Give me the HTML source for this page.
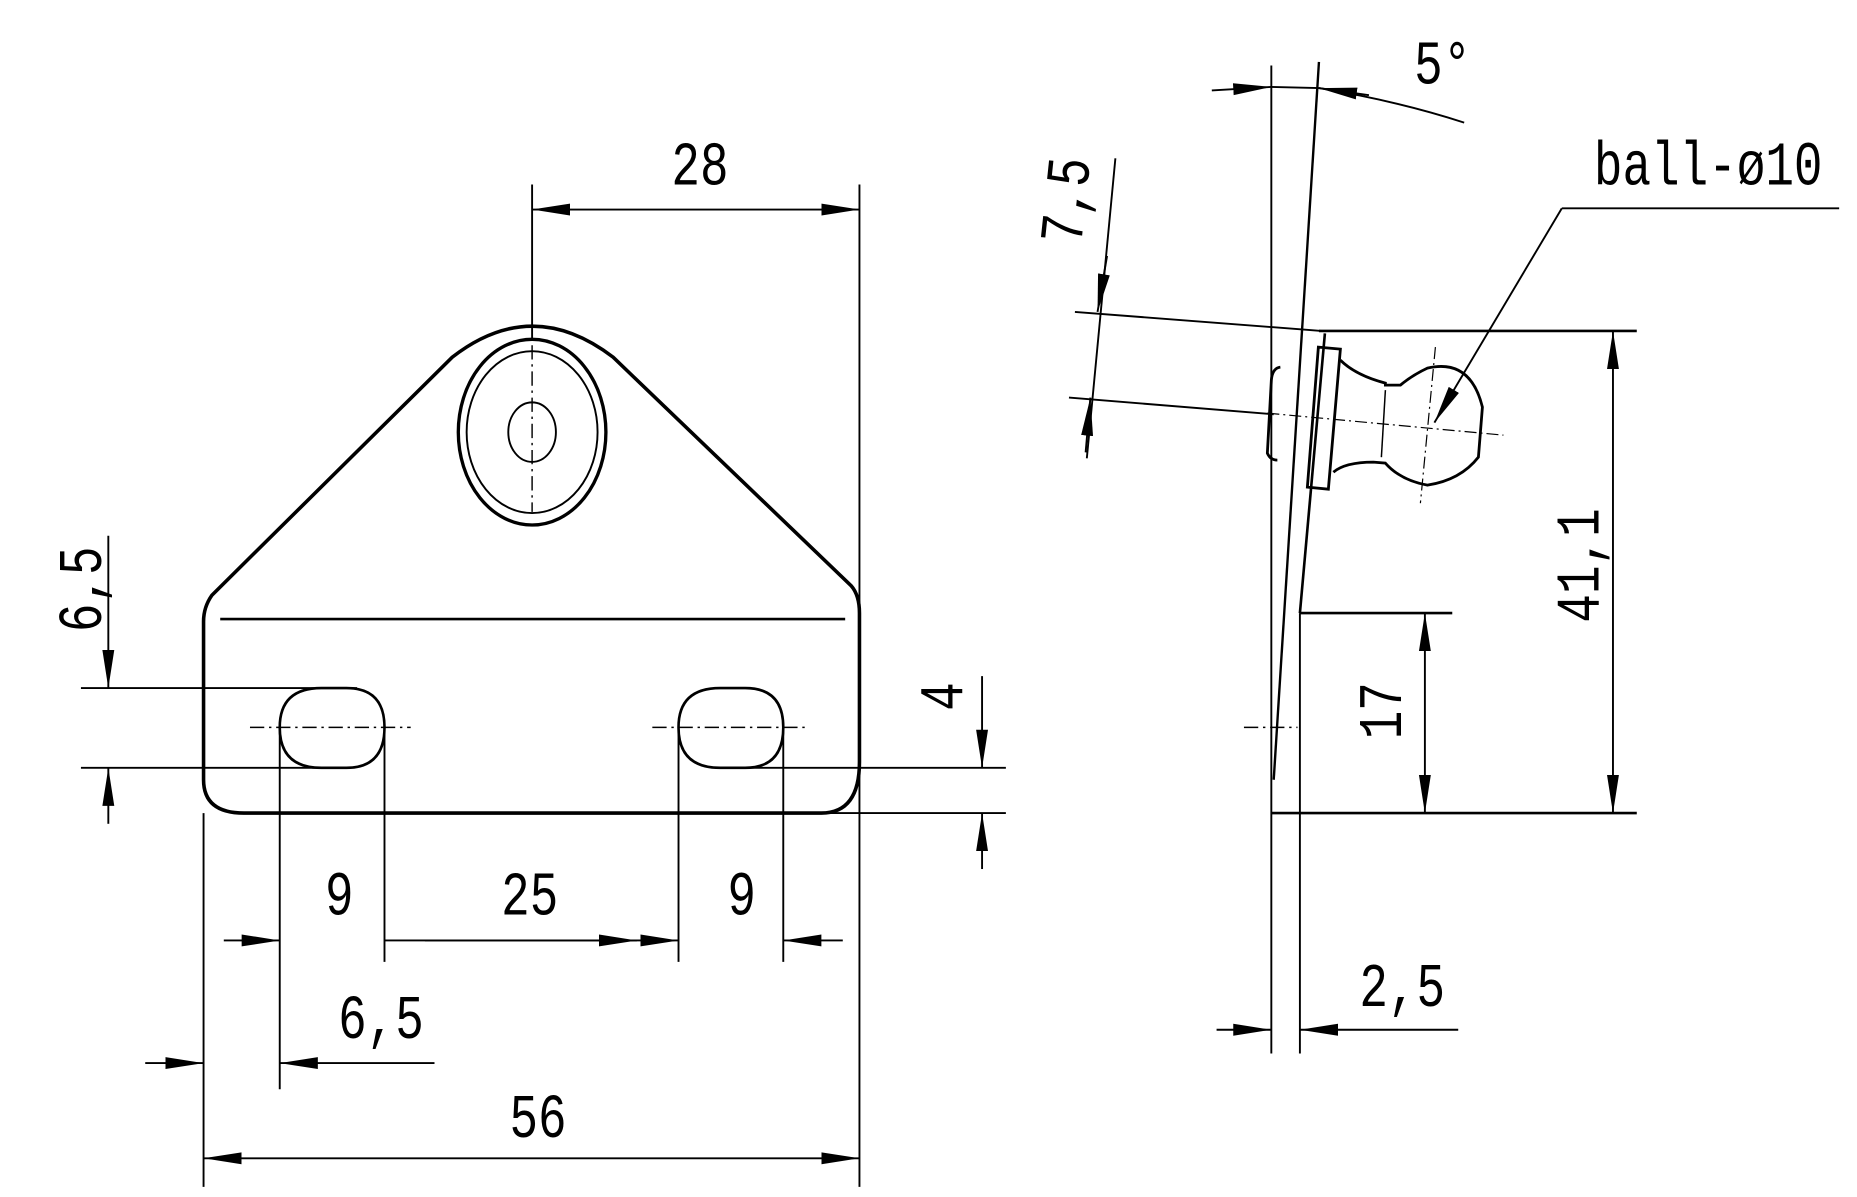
<!DOCTYPE html>
<html><head><meta charset="utf-8"><style>
html,body{margin:0;padding:0;background:#fff;}
svg{display:block;}
text{font-family:"Liberation Mono","DejaVu Sans Mono",monospace;font-size:40px;fill:#000;text-anchor:middle;}
</style></head><body>
<svg width="1857" height="1197" viewBox="0 0 1560 1005.5" preserveAspectRatio="none" xmlns="http://www.w3.org/2000/svg">
<defs>
<marker id="a" markerUnits="userSpaceOnUse" markerWidth="34" markerHeight="14" refX="32" refY="6" orient="auto-start-reverse">
<path d="M0,1 L32,6 L0,11 z" fill="#000"/>
</marker>
</defs>
<g fill="none" stroke="#000" stroke-width="1.6">
<!-- LEFT VIEW outline -->
<path d="M171,655 L171,522 Q171,510 178,500 L380,300 Q447,248 515,300 L715,492 Q722,500 722,515 L722,640 Q722,683 690,683 L205,683 Q171,683 171,655" stroke-width="3"/>
<line x1="185" y1="520" x2="710" y2="520" stroke-width="2.2"/>
<ellipse cx="447" cy="363" rx="62" ry="78" stroke-width="2.8"/>
<ellipse cx="447" cy="363" rx="55" ry="68"/>
<ellipse cx="447" cy="363" rx="20" ry="25"/>
<path d="M270,578 L291,578 Q323,578 323,611 Q323,645 291,645 L270,645 Q235,645 235,611 Q235,578 270,578 z" stroke-width="2.2"/>
<path d="M605,578 L626,578 Q658,578 658,611 Q658,645 626,645 L605,645 Q570,645 570,611 Q570,578 605,578 z" stroke-width="2.2"/>
<g stroke-width="1.2" stroke-dasharray="12,4,2,4">
<line x1="210" y1="611" x2="345" y2="611"/>
<line x1="548" y1="611" x2="680" y2="611"/>
<line x1="447" y1="290" x2="447" y2="430"/>
</g>
<!-- ext lines -->
<line x1="447" y1="155" x2="447" y2="285"/>
<line x1="722" y1="155" x2="722" y2="997"/>
<line x1="171" y1="683" x2="171" y2="997"/>
<line x1="235" y1="611" x2="235" y2="915"/>
<line x1="323" y1="611" x2="323" y2="808"/>
<line x1="570" y1="611" x2="570" y2="808"/>
<line x1="658" y1="611" x2="658" y2="808"/>
<line x1="68" y1="578" x2="300" y2="578"/>
<line x1="68" y1="645" x2="268" y2="645"/>
<line x1="603" y1="645" x2="845" y2="645"/>
<line x1="690" y1="683" x2="845" y2="683"/>
<!-- dims -->
<line x1="447" y1="176" x2="722" y2="176" marker-start="url(#a)" marker-end="url(#a)"/>
<line x1="171" y1="973" x2="722" y2="973" marker-start="url(#a)" marker-end="url(#a)"/>
<line x1="188" y1="790" x2="235" y2="790" marker-end="url(#a)"/>
<line x1="535" y1="790" x2="323" y2="790" marker-start="url(#a)"/>
<line x1="357" y1="790" x2="570" y2="790" marker-end="url(#a)"/>
<line x1="708" y1="790" x2="658" y2="790" marker-end="url(#a)"/>
<line x1="122" y1="893" x2="171" y2="893" marker-end="url(#a)"/>
<line x1="365" y1="893" x2="235" y2="893" marker-end="url(#a)"/>
<line x1="91" y1="450" x2="91" y2="578" marker-end="url(#a)"/>
<line x1="91" y1="692" x2="91" y2="645" marker-end="url(#a)"/>
<line x1="825" y1="568" x2="825" y2="645" marker-end="url(#a)"/>
<line x1="825" y1="730" x2="825" y2="683" marker-end="url(#a)"/>

<!-- RIGHT VIEW -->
<line x1="1068" y1="55" x2="1068" y2="885"/>
<line x1="1092" y1="515" x2="1092" y2="885"/>
<line x1="1108" y1="52" x2="1070" y2="655" stroke-width="2"/>
<line x1="1113" y1="280" x2="1092" y2="515" stroke-width="2.2"/>
<line x1="1068" y1="683" x2="1375" y2="683" stroke-width="2.2"/>
<line x1="1108" y1="278" x2="1375" y2="278" stroke-width="2.2"/>
<line x1="1092" y1="515" x2="1220" y2="515" stroke-width="2.2"/>
<line x1="903" y1="262" x2="1110" y2="278"/>
<line x1="898" y1="334" x2="1070" y2="348"/>
<line x1="937" y1="133" x2="913" y2="385"/>
<line x1="930" y1="215" x2="922" y2="262" marker-end="url(#a)"/>
<line x1="912" y1="380" x2="916" y2="334" marker-end="url(#a)"/>
<!-- 5 deg -->
<line x1="1018" y1="76" x2="1068" y2="73" marker-end="url(#a)"/>
<path d="M1068,73 L1108,74 Q1175,85 1230,103"/>
<line x1="1150" y1="80" x2="1108" y2="74" marker-end="url(#a)"/>
<!-- 2,5 -->
<line x1="1022" y1="865" x2="1068" y2="865" marker-end="url(#a)"/>
<line x1="1225" y1="865" x2="1092" y2="865" marker-end="url(#a)"/>
<!-- 17, 41.1 -->
<line x1="1197" y1="515" x2="1197" y2="683" marker-start="url(#a)" marker-end="url(#a)"/>
<line x1="1355" y1="278" x2="1355" y2="683" marker-start="url(#a)" marker-end="url(#a)"/>
<!-- ball leader -->
<line x1="1312" y1="175" x2="1545" y2="175"/>
<line x1="1312" y1="175" x2="1205" y2="355" marker-end="url(#a)"/>
<g stroke-width="1.2" stroke-dasharray="12,4,2,4">
<line x1="1045" y1="611" x2="1090" y2="611"/>
</g>
<!-- ball part in real coords -->
<g transform="scale(0.8403)" stroke-width="2.8">
<path d="M1318,347 L1340,349 L1328,489 L1307,487 z"/>
<path d="M1340,360 Q1355,375 1385,383 L1385,385 L1400,385 Q1412,375 1427,368 Q1470,358 1482,407 L1478,457 Q1460,480 1427,485 Q1400,480 1385,463 L1373,462 Q1345,462 1333,472"/>
<path d="M1280,367 Q1272,368 1271,380 L1267,453 Q1270,460 1277,460"/>
<line x1="1385" y1="390" x2="1381" y2="457" stroke-width="1.5"/>
<g stroke-width="1.2" stroke-dasharray="12,4,2,4">
<line x1="1435" y1="347" x2="1420" y2="503"/>
<line x1="1267" y1="413" x2="1503" y2="435"/>
</g>
</g>
</g>
<!-- texts -->
<g>
<text transform="translate(588,155) scale(1,1.3)">28</text>
<text transform="translate(452,955) scale(1,1.3)">56</text>
<text transform="translate(285,768) scale(1,1.3)">9</text>
<text transform="translate(445,768) scale(1,1.3)">25</text>
<text transform="translate(623,768) scale(1,1.3)">9</text>
<text transform="translate(320,872) scale(1,1.3)">6,5</text>
<text transform="translate(85,495) rotate(-90) scale(1,1.3)">6,5</text>
<text transform="translate(808,585) rotate(-90) scale(1,1.3)">4</text>
<text transform="translate(912,170) rotate(-84) scale(1,1.3)">7,5</text>
<text transform="translate(1212,70) scale(1,1.3)">5°</text>
<text transform="translate(1435,155) scale(1,1.3)">ball-ø10</text>
<text transform="translate(1178,845) scale(1,1.3)">2,5</text>
<text transform="translate(1177,597) rotate(-90) scale(1,1.3)">17</text>
<text transform="translate(1343,475) rotate(-90) scale(1,1.3)">41,1</text>
</g>
</svg>
</body></html>
